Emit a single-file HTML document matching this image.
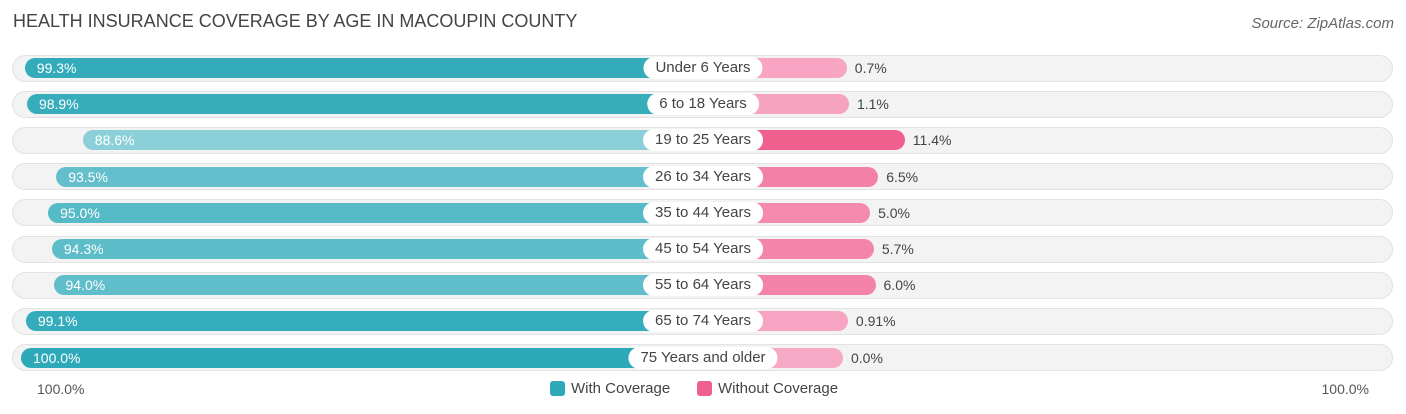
<!DOCTYPE html>
<html><head><meta charset="utf-8"><style>
body{margin:0;width:1406px;height:414px;background:#fff;font-family:"Liberation Sans",sans-serif;position:relative;overflow:hidden}
.t{position:absolute;left:13px;top:11px;font-size:18px;color:#444}
.src{position:absolute;right:12px;top:15px;font-size:15px;color:#666;font-style:italic}
.track{position:absolute;left:12px;width:1381px;height:27px;border-radius:14px;background:#f3f3f3;box-shadow:inset 0 0 0 1px #e2e2e2}
.bar{position:absolute;height:20px;border-radius:10px}
.lab{position:absolute;height:22px;line-height:22px;background:#fff;border-radius:11px;font-size:15px;color:#444;text-align:center;transform:translateX(-50%);padding:0 12px;white-space:nowrap}
.vin{position:absolute;font-size:14px;color:#fff;line-height:20px}
.vout{position:absolute;font-size:14px;color:#444;line-height:20px}
.ax{position:absolute;top:381px;font-size:14px;color:#555}
.leg{position:absolute;top:380px;font-size:15px;color:#444;display:flex;align-items:center}
.sw{width:15px;height:15px;border-radius:3px;margin-right:6px}
</style></head><body>
<div class="t">HEALTH INSURANCE COVERAGE BY AGE IN MACOUPIN COUNTY</div>
<div class="src">Source: ZipAtlas.com</div>
<div id="chart"></div>
<div class="ax" style="left:37px">100.0%</div>
<div class="ax" style="right:37px">100.0%</div>
<div class="leg" style="left:550px"><div class="sw" style="background:#2ea9b9"></div>With Coverage</div>
<div class="leg" style="left:697px"><div class="sw" style="background:#f0608f"></div>Without Coverage</div>
<script>
const categories=["Under 6 Years","6 to 18 Years","19 to 25 Years","26 to 34 Years","35 to 44 Years","45 to 54 Years","55 to 64 Years","65 to 74 Years","75 Years and older"];
const withCov=[99.3,98.9,88.6,93.5,95.0,94.3,94.0,99.1,100.0];
const withoutCov=[0.7,1.1,11.4,6.5,5.0,5.7,6.0,0.91,0.0];
const withLabels=["99.3%","98.9%","88.6%","93.5%","95.0%","94.3%","94.0%","99.1%","100.0%"];
const withoutLabels=["0.7%","1.1%","11.4%","6.5%","5.0%","5.7%","6.0%","0.91%","0.0%"];
const C=703,OFF=140,K=5.42,Y0=68,DY=36.2;
function mix(a,b,t){return 'rgb('+a.map((v,i)=>Math.round(v+(b[i]-v)*t)).join(',')+')';}
const ch=document.getElementById('chart');
function add(cls,st,txt,name){const e=document.createElement('div');e.className=cls;e.style.cssText=st;if(txt!=null)e.textContent=txt;


ch.appendChild(e);return e;}
categories.forEach((c,i)=>{
 const y=Y0+i*DY;
 add('track','top:'+(y-13.5)+'px',null,'row-track');
 const lx=C-OFF-withCov[i]*K;
 const lt=Math.min(1,Math.max(0,(100-withCov[i])/11.4));
 add('bar','left:'+lx+'px;width:'+(C-lx)+'px;top:'+(y-10)+'px;background:'+mix([46,169,185],[139,208,217],lt),null,'bar-with-coverage');
 const rw=OFF+withoutCov[i]*K;
 const rt=Math.min(1,withoutCov[i]/11.4);
 add('bar','left:'+C+'px;width:'+rw+'px;top:'+(y-10)+'px;background:'+mix([247,170,197],[240,96,143],rt),null,'bar-without-coverage');
 add('lab','left:'+C+'px;top:'+(y-11)+'px',c,'category-label');
 add('vin','left:'+(lx+12)+'px;top:'+(y-10)+'px',withLabels[i],'value-with-coverage');
 add('vout','left:'+(C+rw+8)+'px;top:'+(y-10)+'px',withoutLabels[i],'value-without-coverage');
});
</script>
</body></html>
